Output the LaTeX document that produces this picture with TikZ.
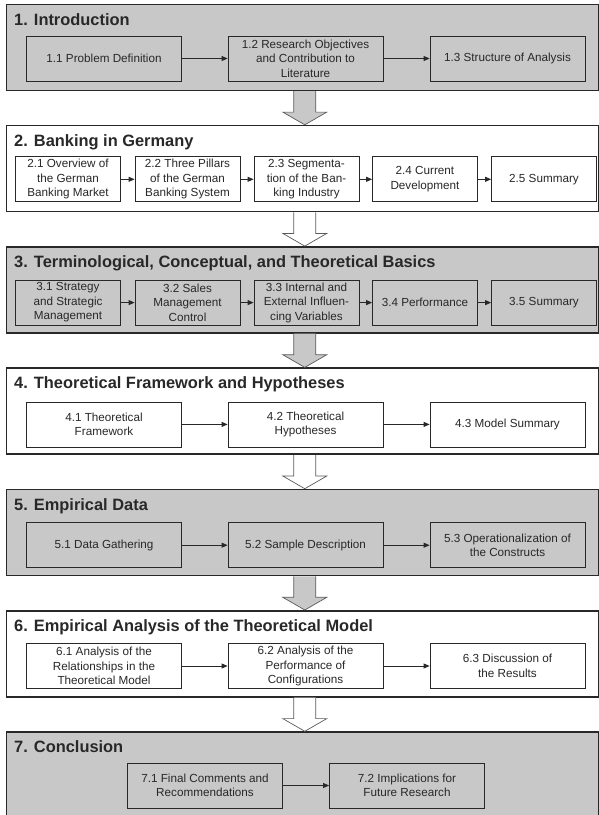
\documentclass[tikz,border=0pt]{standalone}
\usepackage{fontspec}
\setmainfont{Liberation Sans}
\usetikzlibrary{arrows.meta,calc}

\definecolor{panelgray}{RGB}{200,200,200}
\definecolor{inkgray}{RGB}{40,40,40}
\definecolor{arrowedge}{RGB}{90,90,90}

\tikzset{
  panel/.style={draw=inkgray, line width=1.6pt, anchor=north west,
    minimum width=592pt, minimum height=86pt, inner sep=0pt},
  grayp/.style={panel, fill=panelgray},
  whitep/.style={panel, fill=white},
  chaptitle/.style={anchor=base west, inner sep=0pt, text=inkgray,
    font=\bfseries\fontsize{16.4}{18}\selectfont},
  secbox/.style={draw=inkgray, line width=0.8pt, align=center, inner sep=0pt,
    minimum height=45pt, text=inkgray,
    font=\fontsize{11.7}{14.5}\selectfont},
  widebox/.style={secbox, minimum width=155pt},
  narrowbox/.style={secbox, minimum width=105pt},
  flow/.style={draw=inkgray, line width=0.8pt,
    -{Triangle[length=6pt,width=5pt]}},
  bigarrow/.style={draw=arrowedge, line width=0.7pt, line join=miter}
}

% block arrow leading from one chapter panel down to the next
\newcommand\chapterlink[3]{%
  \draw[bigarrow, fill=#3]
    ($(#1.south)+(-8.5,0)$) -- ($(#1.south)+(-8.5,21)$)
    -- ($(#1.south)+(-19.5,21)$) -- ($(#2.north)+(2.5,0)$)
    -- ($(#1.south)+(24.5,21)$) -- ($(#1.south)+(13.5,21)$)
    -- ($(#1.south)+(13.5,0)$);}

\begin{document}
\begin{tikzpicture}[x=1pt, y=-1pt]
\useasboundingbox (0,0) rectangle (599,815);
\clip (0,0) rectangle (599,815);

% ---------- 1. Introduction ----------
\node[grayp] (p1) at (5.5,3.5) {};
\node[chaptitle] (t1) at (14,25) {1. Introduction};
\node[widebox] (b11) at (104,58.5) {1.1 Problem Definition};
\node[widebox] (b12) at (305.5,58.5) {1.2 Research Objectives\\and Contribution to\\Literature};
\node[widebox] (b13) at (507.5,58.5) {1.3 Structure of Analysis};
\draw[flow] (b11) -- (b12);
\draw[flow] (b12) -- (b13);

% ---------- 2. Banking in Germany ----------
\node[whitep] (p2) at (5.5,124.8) {};
\node[chaptitle] (t2) at (14,146.3) {2. Banking in Germany};
\node[narrowbox] (b21) at (68,179.3) {2.1 Overview of\\the German\\Banking Market};
\node[narrowbox] (b22) at (187.5,179.3) {2.2 Three Pillars\\of the German\\Banking System};
\node[narrowbox] (b23) at (306.5,179.3) {2.3 Segmenta-\\tion of the Ban-\\king Industry};
\node[narrowbox] (b24) at (425,179.3) {2.4 Current\\Development};
\node[narrowbox] (b25) at (544,179.3) {2.5 Summary};
\draw[flow] (b21) -- (b22);
\draw[flow] (b22) -- (b23);
\draw[flow] (b23) -- (b24);
\draw[flow] (b24) -- (b25);

% ---------- 3. Basics ----------
\node[grayp] (p3) at (5.5,246.1) {};
\node[chaptitle] (t3) at (14,267.6) {3. Terminological, Conceptual, and Theoretical Basics};
\node[narrowbox] (b31) at (68,302.6) {3.1 Strategy\\and Strategic\\Management};
\node[narrowbox] (b32) at (187.5,302.6) {3.2 Sales\\Management\\Control};
\node[narrowbox] (b33) at (306.5,302.6) {3.3 Internal and\\External Influen-\\cing Variables};
\node[narrowbox] (b34) at (425,302.6) {3.4 Performance};
\node[narrowbox] (b35) at (544,302.6) {3.5 Summary};
\draw[flow] (b31) -- (b32);
\draw[flow] (b32) -- (b33);
\draw[flow] (b33) -- (b34);
\draw[flow] (b34) -- (b35);

% ---------- 4. Framework ----------
\node[whitep] (p4) at (5.5,367.4) {};
\node[chaptitle] (t4) at (14,388.9) {4. Theoretical Framework and Hypotheses};
\node[widebox] (b41) at (104,424.4) {4.1 Theoretical\\Framework};
\node[widebox] (b42) at (305.5,424.4) {4.2 Theoretical\\Hypotheses};
\node[widebox] (b43) at (507.5,424.4) {4.3 Model Summary};
\draw[flow] (b41) -- (b42);
\draw[flow] (b42) -- (b43);

% ---------- 5. Empirical Data ----------
\node[grayp] (p5) at (5.5,488.7) {};
\node[chaptitle] (t5) at (14,510.2) {5. Empirical Data};
\node[widebox] (b51) at (104,545.2) {5.1 Data Gathering};
\node[widebox] (b52) at (305.5,545.2) {5.2 Sample Description};
\node[widebox] (b53) at (507.5,545.2) {5.3 Operationalization of\\the Constructs};
\draw[flow] (b51) -- (b52);
\draw[flow] (b52) -- (b53);

% ---------- 6. Empirical Analysis ----------
\node[whitep] (p6) at (5.5,610) {};
\node[chaptitle] (t6) at (14,631.5) {6. Empirical Analysis of the Theoretical Model};
\node[widebox] (b61) at (104,666) {6.1 Analysis of the\\Relationships in the\\Theoretical Model};
\node[widebox] (b62) at (305.5,666) {6.2 Analysis of the\\Performance of\\Configurations};
\node[widebox] (b63) at (507.5,666) {6.3 Discussion of\\the Results};
\draw[flow] (b61) -- (b62);
\draw[flow] (b62) -- (b63);

% ---------- 7. Conclusion ----------
\node[grayp] (p7) at (5.5,731.3) {};
\node[chaptitle] (t7) at (14,752.8) {7. Conclusion};
\node[widebox] (b71) at (205,785.5) {7.1 Final Comments and\\Recommendations};
\node[widebox] (b72) at (407,785.5) {7.2 Implications for\\Future Research};
\draw[flow] (b71) -- (b72);

% ---------- chapter sequence ----------
\chapterlink{p1}{p2}{panelgray}
\chapterlink{p2}{p3}{white}
\chapterlink{p3}{p4}{panelgray}
\chapterlink{p4}{p5}{white}
\chapterlink{p5}{p6}{panelgray}
\chapterlink{p6}{p7}{white}
\end{tikzpicture}
\end{document}
